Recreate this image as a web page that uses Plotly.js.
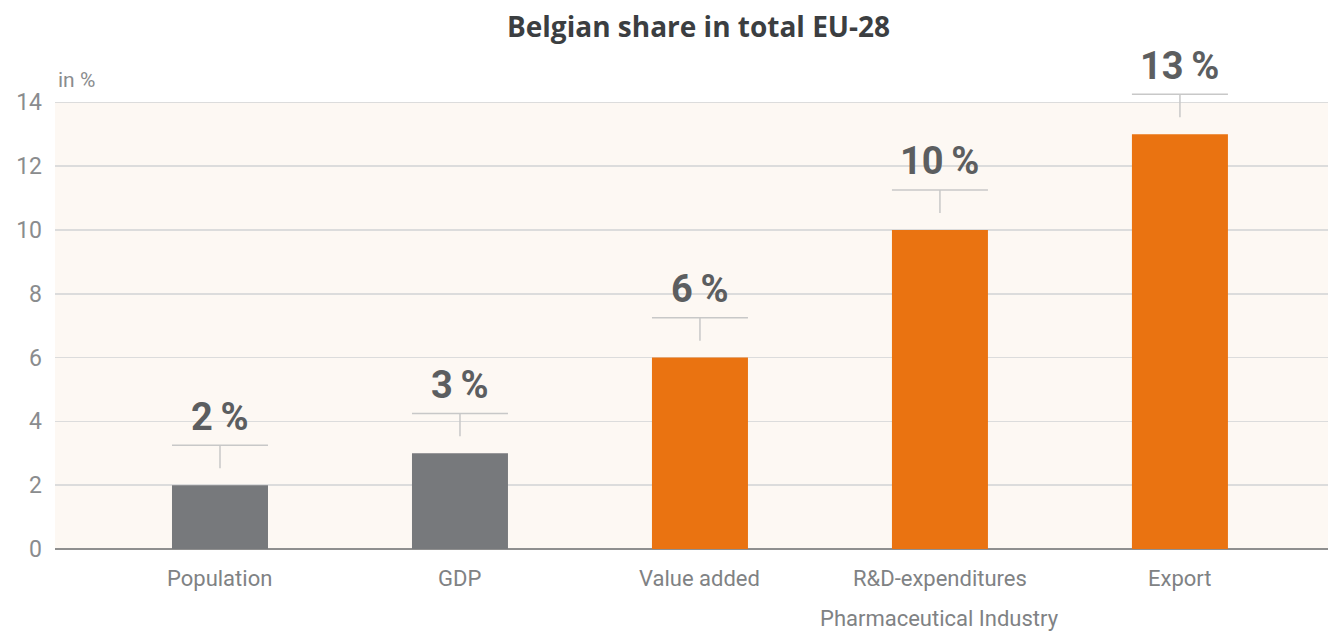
<!DOCTYPE html>
<html>
<head>
<meta charset="utf-8">
<script src="https://cdn.plot.ly/plotly-3.0.1.min.js"></script>
<style>html,body{margin:0;padding:0;background:#fff;}#chart{width:1328px;height:636px;}</style>
</head>
<body>
<div id="chart"></div>
<script>
const categories = ["Population", "GDP", "Value added", "R&D-expenditures<br>Pharmaceutical Industry", "Export"];
const values = [2, 3, 6, 10, 13];
const valueLabels = ["2\u2009%", "3\u2009%", "6\u2009%", "10\u2009%", "13\u2009%"];
const barColors = ["#77797c", "#77797c", "#ea7311", "#ea7311", "#ea7311"];
const yTicks = [0, 2, 4, 6, 8, 10, 12, 14];

const xIdx = categories.map((c, i) => i);
const barHalf = 0.2;
const labelFont = {family: 'Roboto, "Open Sans", sans-serif', size: 22, color: '#808284'};

const shapes = [{
  type: 'rect', xref: 'paper', yref: 'y', x0: 0, x1: 1, y0: 0, y1: 14,
  fillcolor: '#fdf8f3', line: {width: 0}, layer: 'below'
}];
const annotations = [];
values.forEach((v, i) => {
  shapes.push({type: 'line', xref: 'x', yref: 'y', x0: i - barHalf, x1: i + barHalf, y0: v + 1.25, y1: v + 1.25,
    line: {color: '#c8c8c8', width: 1.5}});
  shapes.push({type: 'line', xref: 'x', yref: 'y', x0: i, x1: i, y0: v + 1.25, y1: v + 0.53,
    line: {color: '#c8c8c8', width: 1.5}});
  annotations.push({x: i, y: v + 2.15, xref: 'x', yref: 'y', text: valueLabels[i], showarrow: false,
    font: {family: 'Roboto, "Open Sans", sans-serif', size: 38, color: '#5c5e60', weight: 700}, yanchor: 'middle'});
});
categories.forEach((c, i) => {
  c.split('<br>').forEach((line, k) => {
    annotations.push({x: i, xref: 'x', yref: 'paper', y: -(29 + 40 * k) / 499, yanchor: 'middle',
      text: line, showarrow: false, font: labelFont});
  });
});
annotations.push({xref: 'paper', yref: 'paper', x: 0.001, y: (549 - 80) / 499, xanchor: 'left', yanchor: 'middle',
  text: 'in %', showarrow: false, font: {family: 'Roboto, sans-serif', size: 21, color: '#8a8c8e'}});

const trace = {
  type: 'bar', x: xIdx, y: values, width: 0.4,
  marker: {color: barColors, line: {width: 0}},
  hoverinfo: 'none'
};

const layout = {
  width: 1328, height: 636,
  margin: {l: 55, r: 0, t: 50, b: 87},
  paper_bgcolor: '#ffffff', plot_bgcolor: 'rgba(0,0,0,0)',
  title: {text: '<b>Belgian share in total EU-28</b>', x: 0.526, xanchor: 'center', y: 0.958, yanchor: 'middle',
    font: {family: '"Open Sans", sans-serif', size: 28, color: '#3b3e41'}},
  showlegend: false,
  xaxis: {
    range: [-0.6875, 4.617], tickvals: xIdx, ticktext: xIdx.map(() => ''), showgrid: false, zeroline: false,
    showline: false, ticks: '', fixedrange: true
  },
  yaxis: {
    range: [0, 15.64], tickvals: yTicks, ticktext: yTicks.map(String), showgrid: true, gridcolor: '#dcdcdc', gridwidth: 1.5,
    zeroline: true, zerolinecolor: '#8f8f8f', zerolinewidth: 2.5, showline: false, ticks: '', ticklabelstandoff: 12,
    tickfont: {family: 'Roboto, sans-serif', size: 23, color: '#8a8c8e'}
  },
  shapes: shapes,
  annotations: annotations
};
Plotly.newPlot('chart', [trace], layout, {staticPlot: true, displayModeBar: false});
</script>
</body>
</html>
